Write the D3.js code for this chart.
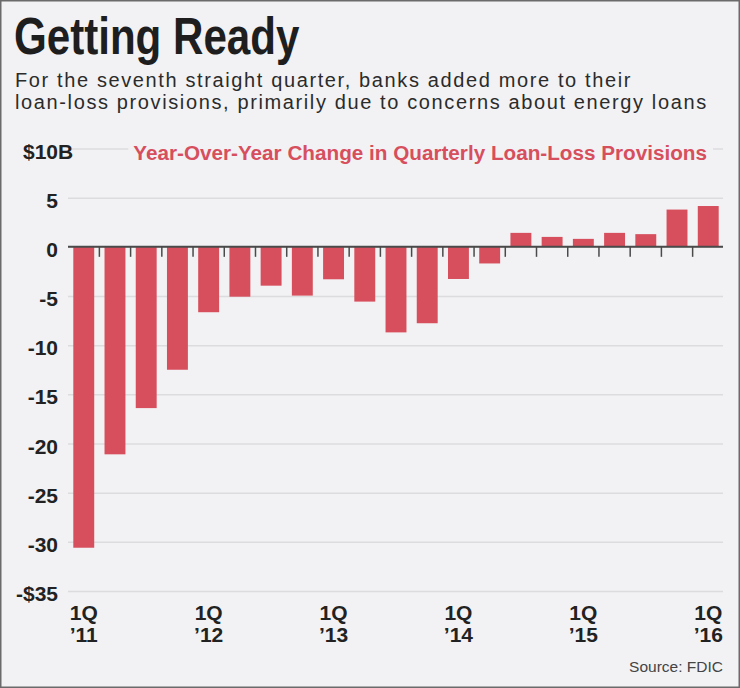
<!DOCTYPE html>
<html>
<head>
<meta charset="utf-8">
<script src="https://cdn.jsdelivr.net/npm/d3@7"></script>
<style>
  html, body { margin: 0; padding: 0; background: #f2f2f4; }
  svg { display: block; }
</style>
</head>
<body>
<div id="chart"></div>
<script>
// quarterly year-over-year change in loan-loss provisions, $ billions
const quarters = [
  "1Q '11", "2Q '11", "3Q '11", "4Q '11",
  "1Q '12", "2Q '12", "3Q '12", "4Q '12",
  "1Q '13", "2Q '13", "3Q '13", "4Q '13",
  "1Q '14", "2Q '14", "3Q '14", "4Q '14",
  "1Q '15", "2Q '15", "3Q '15", "4Q '15",
  "1Q '16"
];
const changes = [
  -30.6, -21.1, -16.4, -12.5,
  -6.65, -5.07, -3.95, -4.96,
  -3.3, -5.57, -8.7, -7.77,
  -3.27, -1.69, 1.42, 1.01,
  0.81, 1.42, 1.29, 3.79,
  4.15
];
const yTicks = [10, 5, 0, -5, -10, -15, -20, -25, -30, -35];
const xLabelQuarters = ["1Q '11", "1Q '12", "1Q '13", "1Q '14", "1Q '15", "1Q '16"];

const title = "Getting Ready";
const subtitle = [
  "For the seventh straight quarter, banks added more to their",
  "loan-loss provisions, primarily due to concerns about energy loans"
];
const seriesTitle = "Year-Over-Year Change in Quarterly Loan-Loss Provisions";
const source = "Source: FDIC";

const W = 740, H = 688;
const bg = "#f2f2f4";
const red = "#d74f5d";
const font = "'Liberation Sans', Arial, Helvetica, sans-serif";
const plot = { left: 68, right: 723, top: 148.5, bottom: 591 };

const svg = d3.select("#chart").append("svg")
  .attr("width", W)
  .attr("height", H);

svg.append("rect")
  .attr("x", 0.75).attr("y", 0.75)
  .attr("width", W - 1.5).attr("height", H - 1.5)
  .attr("fill", bg)
  .attr("stroke", "#6b6b6b")
  .attr("stroke-width", 1.5);

// headline (condensed by squeezing the bold face) + dek
svg.append("text")
  .attr("transform", "translate(14, 53.5) scale(0.81, 1)")
  .attr("font-family", font)
  .attr("font-weight", "bold")
  .attr("font-size", 52)
  .attr("fill", "#1e1e1e")
  .text(title);

svg.selectAll(".dek")
  .data(subtitle)
  .enter()
  .append("text")
  .attr("class", "dek")
  .attr("x", 15)
  .attr("y", (d, i) => 86.5 + i * 22.2)
  .attr("font-family", font)
  .attr("font-size", 20)
  .attr("letter-spacing", 1.62)
  .attr("fill", "#2b2b2b")
  .text((d) => d);

// scales
const x = d3.scaleBand()
  .domain(quarters)
  .range([73.3, 718.7])
  .paddingInner(0.33)
  .paddingOuter(0);

const y = d3.scaleLinear()
  .domain([-35, 10])
  .range([plot.bottom, plot.top]);

// gridlines + y labels
const yAxis = svg.append("g")
  .attr("transform", `translate(${plot.left}, 0)`)
  .call(
    d3.axisLeft(y)
      .tickValues(yTicks)
      .tickSize(-(plot.right - plot.left))
      .tickPadding(10)
      .tickFormat((d) => (d === 10 ? "$10" : d === -35 ? "-$35" : String(d)))
  );

yAxis.select(".domain").remove();
yAxis.selectAll(".tick line")
  .attr("stroke", "#dcdcdf")
  .attr("stroke-width", 1.5);
yAxis.selectAll(".tick text")
  .attr("dy", null)
  .attr("y", 9.5)
  .attr("font-family", font)
  .attr("font-weight", "bold")
  .attr("font-size", 21)
  .attr("fill", "#222");

// the "B" of $10B hangs past the label column
yAxis.selectAll(".tick")
  .filter((d) => d === 10)
  .append("text")
  .attr("x", -10)
  .attr("y", 9.5)
  .attr("text-anchor", "start")
  .attr("font-family", font)
  .attr("font-weight", "bold")
  .attr("font-size", 21)
  .attr("fill", "#222")
  .text("B");

// series title sitting on the top gridline
const st = svg.append("text")
  .attr("x", 707)
  .attr("y", y(10) + 11)
  .attr("text-anchor", "end")
  .attr("font-family", font)
  .attr("font-weight", "bold")
  .attr("font-size", 20.7)
  .attr("fill", red)
  .text(seriesTitle);

const bb = st.node().getBBox();
svg.insert("rect", () => st.node())
  .attr("x", bb.x - 5)
  .attr("y", y(10) - 3)
  .attr("width", bb.width + 11)
  .attr("height", 6)
  .attr("fill", bg);

// bars
svg.append("g")
  .selectAll("rect")
  .data(quarters)
  .enter()
  .append("rect")
  .attr("x", (d) => x(d))
  .attr("width", x.bandwidth())
  .attr("y", (d, i) => y(Math.max(0, changes[i])))
  .attr("height", (d, i) => Math.abs(y(changes[i]) - y(0)))
  .attr("fill", red);

// zero line with ticks between the bars
svg.append("line")
  .attr("x1", plot.left)
  .attr("x2", plot.right)
  .attr("y1", y(0))
  .attr("y2", y(0))
  .attr("stroke", "#4a4a4a")
  .attr("stroke-width", 2);

const gap = x.step() - x.bandwidth();
svg.append("g")
  .selectAll("line")
  .data(quarters.slice(1))
  .enter()
  .append("line")
  .attr("x1", (d) => x(d) - gap / 2)
  .attr("x2", (d) => x(d) - gap / 2)
  .attr("y1", y(0))
  .attr("y2", y(0) + 10)
  .attr("stroke", "#4a4a4a")
  .attr("stroke-width", 1.5);

// x labels, two lines each
const xl = svg.append("g")
  .selectAll("text")
  .data(xLabelQuarters)
  .enter()
  .append("text")
  .attr("text-anchor", "middle")
  .attr("font-family", font)
  .attr("font-weight", "bold")
  .attr("font-size", 21)
  .attr("fill", "#222");

xl.append("tspan")
  .attr("x", (d) => x(d) + x.bandwidth() / 2)
  .attr("y", 620)
  .text((d) => d.split(" ")[0]);

xl.append("tspan")
  .attr("x", (d) => x(d) + x.bandwidth() / 2)
  .attr("y", 642)
  .text((d) => "\u2019" + d.split(" ")[1].slice(1));

svg.append("text")
  .attr("x", 723)
  .attr("y", 672)
  .attr("text-anchor", "end")
  .attr("font-family", font)
  .attr("font-size", 15.5)
  .attr("fill", "#444")
  .text(source);
</script>
</body>
</html>
